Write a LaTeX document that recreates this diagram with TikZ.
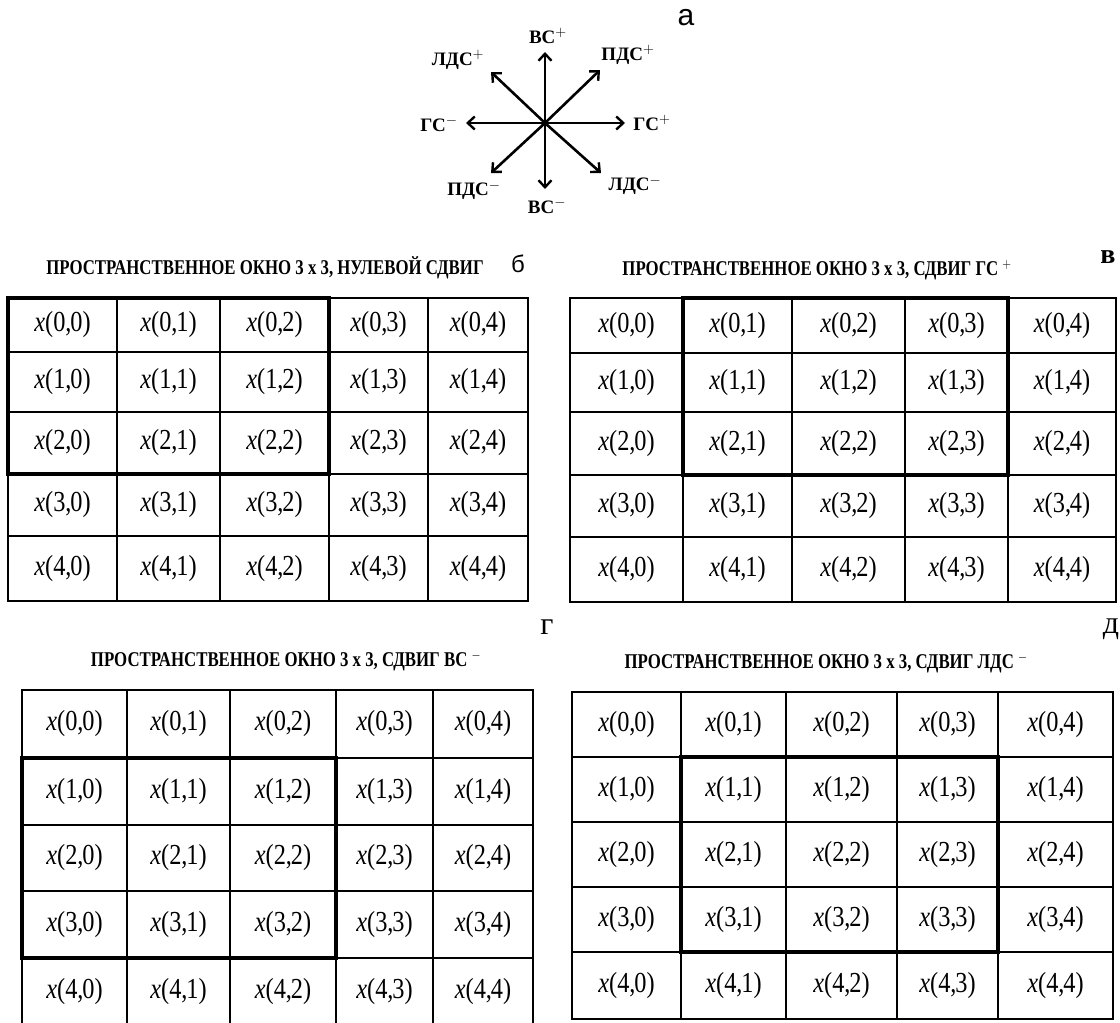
\documentclass[tikz,border=0pt]{standalone}
\usepackage{fontspec}
\setmainfont{Liberation Serif}
\newfontfamily\arialfont{Liberation Sans}
\usetikzlibrary{positioning,arrows.meta}

% cell text and title text
\newcommand{\cx}[2]{\scalebox{0.84}[1]{\textit{x}(#1,\kern-1.5pt#2)}}
\newcommand{\ttl}[1]{\scalebox{0.8}[1]{\fontsize{21}{21}\selectfont\bfseries #1}}

\tikzset{
  gridline/.style={line width=1.2pt},
  window/.style={line width=3.4pt, line cap=rect},
  cell/.style={inner sep=0pt, font=\fontsize{29}{29}\selectfont},
  dirarrow/.style={line width=2.6pt, -{Straight Barb[length=7pt,width=13pt,line width=2.4pt]}},
  dirlabel/.style={inner sep=0pt, font=\fontsize{19}{19}\selectfont\bfseries},
  title/.style={inner sep=0pt},
  panel/.style={inner sep=0pt}
}

% #1 name, #2 columns c/x0/x1, #3 rows r/y0/y1
\newcommand{\cellgrid}[3]{%
  \foreach \c/\xa/\xb in {#2}
    \foreach \r/\ya/\yb in {#3}{
      \draw[gridline] (\xa,\ya) rectangle (\xb,\yb);
      \node[cell] (#1-\r-\c) at ({(\xa+\xb)/2},{(\ya+\yb)/2}) {\cx{\r}{\c}};
    }%
}

\begin{document}
\begin{tikzpicture}[x=1pt,y=-1pt]
    \useasboundingbox (0,0) rectangle (1120,1023);

    % Directions of shift
    \coordinate (o) at (545,123);
    \coordinate (vcp) at (545,52);
    \coordinate (vcm) at (545,189);
    \coordinate (gcp) at (625,123);
    \coordinate (gcm) at (466,123);
    \coordinate (pdcp) at (600,70);
    \coordinate (ldcp) at (491,72);
    \coordinate (pdcm) at (491,173);
    \coordinate (ldcm) at (601,173);
    \foreach \t in {vcp,vcm,gcp,gcm,pdcp,ldcp,pdcm,ldcm}
        \draw[dirarrow] (o) -- (\t);

    \node[dirlabel] (l-vcp) at (548,36) {ВС$^{+}$};
    \node[dirlabel] (l-vcm) at (547,206) {ВС$^{-}$};
    \node[dirlabel] (l-gcp) at (652,123) {ГС$^{+}$};
    \node[dirlabel] (l-gcm) at (439,124) {ГС$^{-}$};
    \node[dirlabel] (l-pdcp) at (628,55) {ПДС$^{+}$};
    \node[dirlabel] (l-ldcp) at (458,60) {ЛДС$^{+}$};
    \node[dirlabel] (l-pdcm) at (474,190) {ПДС$^{-}$};
    \node[dirlabel] (l-ldcm) at (635,185) {ЛДС$^{-}$};
    \node[panel, font=\arialfont\fontsize{30}{30}\selectfont] (pa) at (686,18) {а};

    % Zero shift
    \node[title] (t-b) at (265,268) {\ttl{ПРОСТРАНСТВЕННОЕ ОКНО 3 x 3, НУЛЕВОЙ СДВИГ}};
    \node[panel, font=\arialfont\fontsize{24}{24}\selectfont] (pb) at (518,264) {б};
    \cellgrid{b}{0/8/117,1/117/220,2/220/329,3/329/428,4/428/528}
        {0/298/352,1/352/412,2/412/474,3/474/536,4/536/601}
    \draw[window] (8,298) rectangle (329,474);

    % Shift GC+
    \node[title] (t-v) at (817,270) {\ttl{ПРОСТРАНСТВЕННОЕ ОКНО 3 x 3, СДВИГ ГС $^{+}$}};
    \node[panel, font=\fontsize{28}{28}\selectfont\bfseries] (pv) at (1108,257) {в};
    \cellgrid{v}{0/570/683,1/683/792,2/792/905,3/905/1008,4/1008/1116}
        {0/298/353,1/353/412,2/412/475,3/475/537,4/537/602}
    \draw[window] (683,298) rectangle (1008,475);

    % Shift VC-
    \node[title] (t-g) at (286,661) {\ttl{ПРОСТРАНСТВЕННОЕ ОКНО 3 x 3, СДВИГ ВС $^{-}$}};
    \node[panel, font=\fontsize{32}{32}\selectfont] (pg) at (547,627) {г};
    \cellgrid{g}{0/22/127,1/127/230,2/230/336,3/336/433,4/433/533}
        {0/690/758,1/758/825,2/825/891,3/891/958,4/958/1026}
    \draw[window] (22,758) rectangle (336,958);

    % Shift LDC-
    \node[title] (t-d) at (826,663) {\ttl{ПРОСТРАНСТВЕННОЕ ОКНО 3 x 3, СДВИГ ЛДС $^{-}$}};
    \node[panel, font=\fontsize{32}{32}\selectfont] (pd) at (1111,629) {д};
    \cellgrid{d}{0/572/681,1/681/786,2/786/897,3/897/998,4/998/1113}
        {0/692/757,1/757/822,2/822/887,3/887/952,4/952/1019}
    \draw[window] (681,757) rectangle (998,952);
\end{tikzpicture}
\end{document}
